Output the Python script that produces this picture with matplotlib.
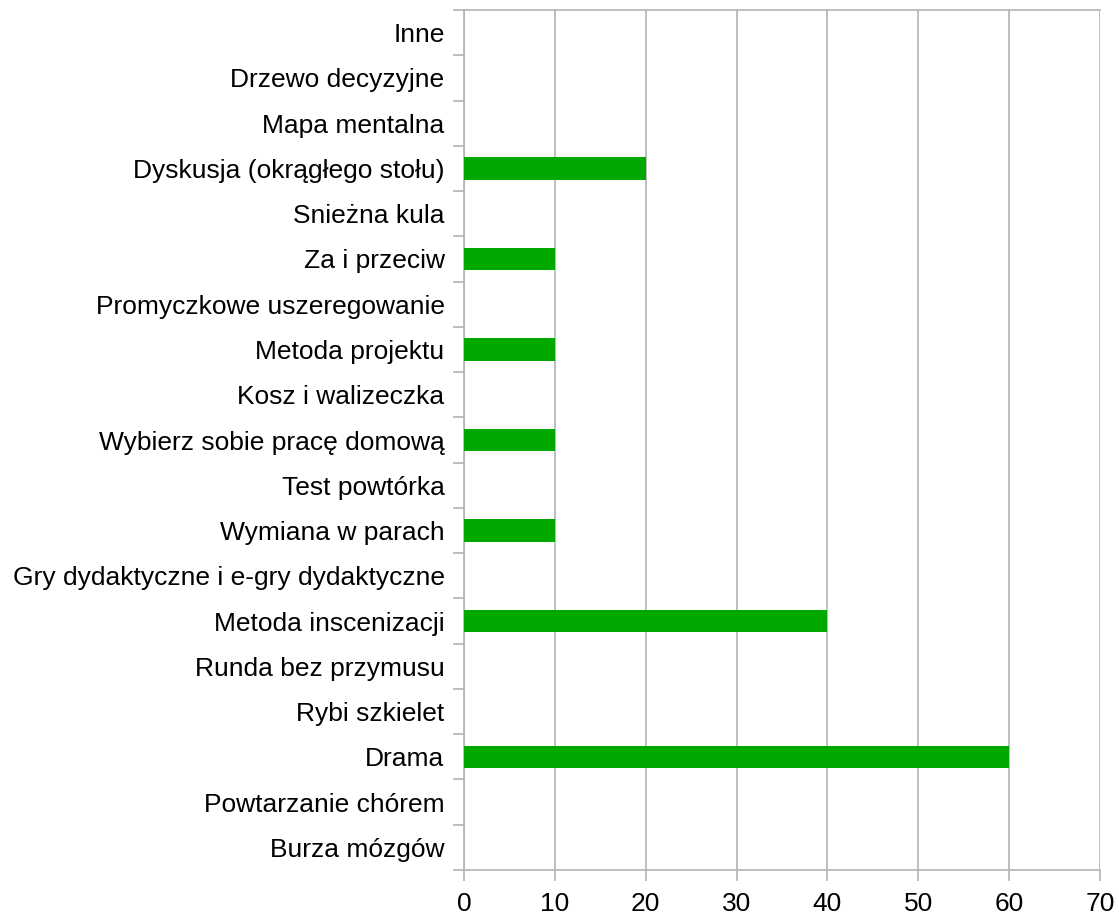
import numpy as np
import matplotlib
matplotlib.use("Agg")
import matplotlib.pyplot as plt

plt.rcParams['font.family'] = ['Liberation Sans', 'DejaVu Sans']

# categories listed bottom to top
categories = [
    'Burza mózgów', 'Powtarzanie chórem', 'Drama', 'Rybi szkielet',
    'Runda bez przymusu', 'Metoda inscenizacji',
    'Gry dydaktyczne i e-gry dydaktyczne', 'Wymiana w parach',
    'Test powtórka', 'Wybierz sobie pracę domową', 'Kosz i walizeczka',
    'Metoda projektu', 'Promyczkowe uszeregowanie', 'Za i przeciw',
    'Snieżna kula', 'Dyskusja (okrągłego stołu)', 'Mapa mentalna',
    'Drzewo decyzyjne', 'Inne',
]
values = [0, 0, 60, 0, 0, 40, 0, 10, 0, 10, 0, 10, 0, 10, 0, 20, 0, 0, 0]
xticks = [0, 10, 20, 30, 40, 50, 60, 70]

gray = '#b3b3b3'

fig = plt.figure(figsize=(11.19, 9.17), dpi=100)
ax = fig.add_axes([0.4147, 0.0513, 0.983 - 0.4147, 0.989 - 0.0513])

y = np.arange(len(categories))
ax.barh(y, values, height=0.5, color='#00a800', zorder=3)

ax.set_xlim(0, 70)
ax.set_ylim(-0.5, len(categories) - 0.5)
ax.set_xticks(xticks)
ax.set_yticks(y)
ax.set_yticklabels(categories)
ax.set_yticks(np.arange(len(categories) + 1) - 0.5, minor=True)

ax.grid(True, axis='x', color=gray, linewidth=1.2, zorder=0)
for s in ax.spines.values():
    s.set_color(gray)
    s.set_linewidth(1.2)
ax.spines['right'].set_visible(False)

ax.tick_params(axis='y', which='major', length=0, pad=14, labelsize=19)
ax.tick_params(axis='y', which='minor', length=8, color=gray, width=1.2)
ax.tick_params(axis='x', length=8, color=gray, width=1.2, labelsize=19, pad=8)

fig.savefig('out.png', dpi=100)
